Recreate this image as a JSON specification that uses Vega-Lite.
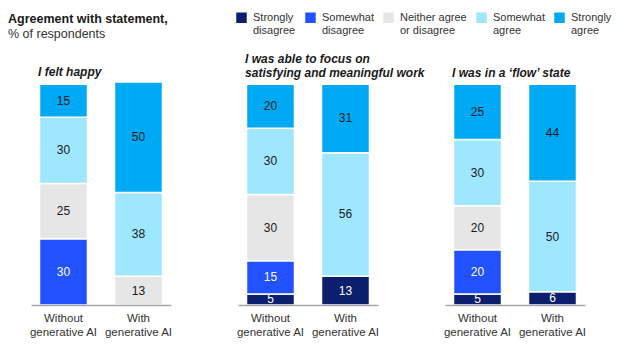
{
  "$schema": "https://vega.github.io/schema/vega-lite/v6.json",
  "padding": {"left": 8, "top": 12, "right": 5, "bottom": 5},
  "autosize": {"type": "pad"},
  "bounds": "flush",
  "spacing": 67,
  "config": {"view": {"stroke": null}, "font": "Liberation Sans"},
  "title": {"text": "Agreement with statement,", "subtitle": "% of respondents", "anchor": "start", "frame": "group", "dx": -23, "offset": -28, "fontSize": 12.5, "fontWeight": "bold", "color": "#1a1a1a", "subtitleFontSize": 12.5, "subtitleColor": "#333333", "subtitlePadding": 2},
  "data": {"values": [
    {"s": "happy", "g": "Without generative AI", "r": "Somewhat disagree", "v": 30, "o": 2},
    {"s": "happy", "g": "Without generative AI", "r": "Neither agree or disagree", "v": 25, "o": 3},
    {"s": "happy", "g": "Without generative AI", "r": "Somewhat agree", "v": 30, "o": 4},
    {"s": "happy", "g": "Without generative AI", "r": "Strongly agree", "v": 15, "o": 5},
    {"s": "happy", "g": "With generative AI", "r": "Neither agree or disagree", "v": 13, "o": 3},
    {"s": "happy", "g": "With generative AI", "r": "Somewhat agree", "v": 38, "o": 4},
    {"s": "happy", "g": "With generative AI", "r": "Strongly agree", "v": 50, "o": 5},
    {"s": "focus", "g": "Without generative AI", "r": "Strongly disagree", "v": 5, "o": 1},
    {"s": "focus", "g": "Without generative AI", "r": "Somewhat disagree", "v": 15, "o": 2},
    {"s": "focus", "g": "Without generative AI", "r": "Neither agree or disagree", "v": 30, "o": 3},
    {"s": "focus", "g": "Without generative AI", "r": "Somewhat agree", "v": 30, "o": 4},
    {"s": "focus", "g": "Without generative AI", "r": "Strongly agree", "v": 20, "o": 5},
    {"s": "focus", "g": "With generative AI", "r": "Strongly disagree", "v": 13, "o": 1},
    {"s": "focus", "g": "With generative AI", "r": "Somewhat agree", "v": 56, "o": 4},
    {"s": "focus", "g": "With generative AI", "r": "Strongly agree", "v": 31, "o": 5},
    {"s": "flow", "g": "Without generative AI", "r": "Strongly disagree", "v": 5, "o": 1},
    {"s": "flow", "g": "Without generative AI", "r": "Somewhat disagree", "v": 20, "o": 2},
    {"s": "flow", "g": "Without generative AI", "r": "Neither agree or disagree", "v": 20, "o": 3},
    {"s": "flow", "g": "Without generative AI", "r": "Somewhat agree", "v": 30, "o": 4},
    {"s": "flow", "g": "Without generative AI", "r": "Strongly agree", "v": 25, "o": 5},
    {"s": "flow", "g": "With generative AI", "r": "Strongly disagree", "v": 6, "o": 1},
    {"s": "flow", "g": "With generative AI", "r": "Somewhat agree", "v": 50, "o": 4},
    {"s": "flow", "g": "With generative AI", "r": "Strongly agree", "v": 44, "o": 5}
  ]},
  "hconcat": [
    {
      "width": 140, "height": 223,
      "title": {"text": "I felt happy", "anchor": "start", "dx": 9, "offset": 2, "fontSize": 12, "fontWeight": "bold", "fontStyle": "italic", "color": "#1a1a1a", "lineHeight": 14, "limit": 300},
      "transform": [{"filter": "datum.s == 'happy'"}],
      "encoding": {
        "x": {"field": "g", "type": "nominal", "sort": ["Without generative AI", "With generative AI"], "scale": {"paddingInner": 0.36, "paddingOuter": 0.1133}, "axis": {"title": null, "labelAngle": 0, "ticks": false, "zindex": 1, "domainColor": "#a6a6a6", "domainWidth": 1.5, "labelFontSize": 11.5, "labelColor": "#333333", "labelPadding": 7, "labelLineHeight": 14, "labelBaseline": "top", "labelExpr": "datum.label == 'Without generative AI' ? ['Without', 'generative AI'] : ['With', 'generative AI']"}},
        "y": {"field": "v", "type": "quantitative", "stack": "zero", "scale": {"domain": [0, 101], "nice": false}, "axis": null},
        "order": {"field": "o", "type": "quantitative"}
      },
      "layer": [
        {"mark": {"type": "bar", "stroke": "white", "strokeWidth": 1.5},
         "encoding": {"color": {"field": "r", "type": "nominal",
           "scale": {"domain": ["Strongly disagree", "Somewhat disagree", "Neither agree or disagree", "Somewhat agree", "Strongly agree"], "range": ["#0b1f6e", "#2251ff", "#e6e6e6", "#9fe6ff", "#00a9f4"]},
           "legend": {"orient": "none", "legendX": 205, "legendY": -70, "direction": "horizontal", "columns": 5, "title": null, "symbolType": "square", "symbolSize": 110, "symbolStrokeWidth": 0, "labelFontSize": 11, "labelColor": "#333333", "columnPadding": 9, "labelOffset": 6, "labelBaseline": "middle", "encode": {"labels": {"update": {"dy": {"value": 7}}}},
             "labelExpr": "datum.label == 'Strongly disagree' ? ['Strongly', 'disagree'] : datum.label == 'Somewhat disagree' ? ['Somewhat', 'disagree'] : datum.label == 'Neither agree or disagree' ? ['Neither agree', 'or disagree'] : datum.label == 'Somewhat agree' ? ['Somewhat', 'agree'] : ['Strongly', 'agree']"}}}},
        {"mark": {"type": "text", "fontSize": 12},
         "encoding": {"y": {"field": "v", "type": "quantitative", "stack": "zero", "bandPosition": 0.5}, "detail": {"field": "r"}, "text": {"field": "v", "type": "quantitative"},
           "color": {"condition": {"test": "datum.o <= 2", "value": "white"}, "value": "#1a1a1a"}}}
      ]
    },
    {
      "width": 140, "height": 223,
      "title": {"text": ["I was able to focus on", "satisfying and meaningful work"], "anchor": "start", "dx": 9, "offset": 2, "fontSize": 12, "fontWeight": "bold", "fontStyle": "italic", "color": "#1a1a1a", "lineHeight": 14, "limit": 300},
      "transform": [{"filter": "datum.s == 'focus'"}],
      "encoding": {
        "x": {"field": "g", "type": "nominal", "sort": ["Without generative AI", "With generative AI"], "scale": {"paddingInner": 0.36, "paddingOuter": 0.1133}, "axis": {"title": null, "labelAngle": 0, "ticks": false, "zindex": 1, "domainColor": "#a6a6a6", "domainWidth": 1.5, "labelFontSize": 11.5, "labelColor": "#333333", "labelPadding": 7, "labelLineHeight": 14, "labelBaseline": "top", "labelExpr": "datum.label == 'Without generative AI' ? ['Without', 'generative AI'] : ['With', 'generative AI']"}},
        "y": {"field": "v", "type": "quantitative", "stack": "zero", "scale": {"domain": [0, 101], "nice": false}, "axis": null},
        "order": {"field": "o", "type": "quantitative"}
      },
      "layer": [
        {"mark": {"type": "bar", "stroke": "white", "strokeWidth": 1.5},
         "encoding": {"color": {"field": "r", "type": "nominal",
           "scale": {"domain": ["Strongly disagree", "Somewhat disagree", "Neither agree or disagree", "Somewhat agree", "Strongly agree"], "range": ["#0b1f6e", "#2251ff", "#e6e6e6", "#9fe6ff", "#00a9f4"]}}}},
        {"mark": {"type": "text", "fontSize": 12},
         "encoding": {"y": {"field": "v", "type": "quantitative", "stack": "zero", "bandPosition": 0.5}, "detail": {"field": "r"}, "text": {"field": "v", "type": "quantitative"},
           "color": {"condition": {"test": "datum.o <= 2", "value": "white"}, "value": "#1a1a1a"}}}
      ]
    },
    {
      "width": 140, "height": 223,
      "title": {"text": "I was in a \u2018flow\u2019 state", "anchor": "start", "dx": 9, "offset": 2, "fontSize": 12, "fontWeight": "bold", "fontStyle": "italic", "color": "#1a1a1a", "lineHeight": 14, "limit": 300},
      "transform": [{"filter": "datum.s == 'flow'"}],
      "encoding": {
        "x": {"field": "g", "type": "nominal", "sort": ["Without generative AI", "With generative AI"], "scale": {"paddingInner": 0.36, "paddingOuter": 0.1133}, "axis": {"title": null, "labelAngle": 0, "ticks": false, "zindex": 1, "domainColor": "#a6a6a6", "domainWidth": 1.5, "labelFontSize": 11.5, "labelColor": "#333333", "labelPadding": 7, "labelLineHeight": 14, "labelBaseline": "top", "labelExpr": "datum.label == 'Without generative AI' ? ['Without', 'generative AI'] : ['With', 'generative AI']"}},
        "y": {"field": "v", "type": "quantitative", "stack": "zero", "scale": {"domain": [0, 101], "nice": false}, "axis": null},
        "order": {"field": "o", "type": "quantitative"}
      },
      "layer": [
        {"mark": {"type": "bar", "stroke": "white", "strokeWidth": 1.5},
         "encoding": {"color": {"field": "r", "type": "nominal",
           "scale": {"domain": ["Strongly disagree", "Somewhat disagree", "Neither agree or disagree", "Somewhat agree", "Strongly agree"], "range": ["#0b1f6e", "#2251ff", "#e6e6e6", "#9fe6ff", "#00a9f4"]}}}},
        {"mark": {"type": "text", "fontSize": 12},
         "encoding": {"y": {"field": "v", "type": "quantitative", "stack": "zero", "bandPosition": 0.5}, "detail": {"field": "r"}, "text": {"field": "v", "type": "quantitative"},
           "color": {"condition": {"test": "datum.o <= 2", "value": "white"}, "value": "#1a1a1a"}}}
      ]
    }
  ]
}
